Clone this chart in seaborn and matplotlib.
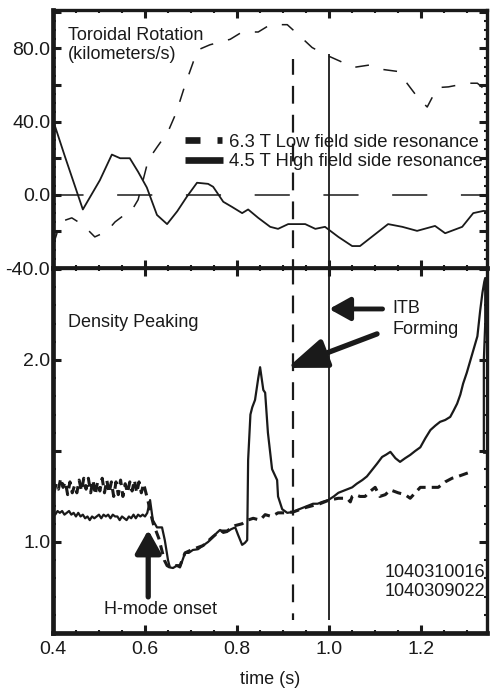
import matplotlib
matplotlib.use("Agg")
import matplotlib.pyplot as plt
from matplotlib.lines import Line2D
from matplotlib.ticker import MultipleLocator, FixedLocator, FormatStrFormatter
import seaborn as sns

# ---------------- data ----------------
# Top panel: toroidal rotation (km/s)
rot_low_t = [0.400, 0.410, 0.425, 0.441, 0.465, 0.491, 0.517, 0.535, 0.555, 0.572, 0.585,
             0.607, 0.626, 0.650, 0.668, 0.687, 0.704, 0.713, 0.741, 0.785, 0.811, 0.846,
             0.872, 0.909, 0.937, 0.963, 0.991, 1.024, 1.052, 1.089, 1.117, 1.150, 1.172,
             1.193, 1.213, 1.235, 1.259, 1.300, 1.322, 1.333, 1.343]
rot_low_v = [-28, -20, -14, -12.6, -16.4, -23, -20, -14.8, -11, -8.2, -2.7,
             19, 26, 34.5, 45, 60, 72, 79, 82, 85, 89, 89,
             93, 93, 86.6, 80.5, 76.7, 73, 69.6, 71, 68.5, 67.4, 60,
             53, 48, 58.6, 59, 61, 61, 58.6, 58]

rot_high_t = [0.400, 0.426, 0.465, 0.502, 0.528, 0.546, 0.567, 0.585, 0.604, 0.626, 0.648,
              0.670, 0.691, 0.713, 0.737, 0.748, 0.770, 0.789, 0.811, 0.824, 0.846, 0.872,
              0.889, 0.911, 0.948, 0.970, 0.991, 1.020, 1.050, 1.067, 1.128, 1.159, 1.191,
              1.230, 1.252, 1.289, 1.313, 1.335, 1.343]
rot_high_v = [41, 21, -8, 8, 22, 20, 20, 12.6, 4, -11, -16,
              -9, -1, 6.6, 6, 4.4, -3.8, -6.6, -10, -8, -12.6, -17.5,
              -18.6, -16, -16, -18.6, -17.5, -23, -28, -28, -16, -17.5, -19.7,
              -17, -21, -17.5, -10, -8.8, -9]

# Bottom panel: density peaking, shot 1040310016 (solid)
dens_a_t = [0.400, 0.405, 0.410, 0.415, 0.420, 0.425, 0.430, 0.435, 0.440, 0.445, 0.450,
            0.455, 0.460, 0.465, 0.470, 0.475, 0.480, 0.485, 0.490, 0.495, 0.500, 0.505,
            0.510, 0.515, 0.520, 0.525, 0.530, 0.535, 0.540, 0.545, 0.550, 0.555, 0.560,
            0.565, 0.570, 0.575, 0.580, 0.585, 0.590, 0.595, 0.600, 0.605, 0.611, 0.617,
            0.626, 0.637, 0.643, 0.650, 0.654, 0.661, 0.669, 0.676, 0.687, 0.695, 0.704,
            0.715, 0.726, 0.737, 0.748, 0.756, 0.763, 0.770, 0.778, 0.787, 0.796, 0.802,
            0.811, 0.817, 0.822, 0.824, 0.829, 0.833, 0.839, 0.846, 0.850, 0.857, 0.861,
            0.867, 0.876, 0.887, 0.889, 0.898, 0.909, 0.922, 0.935, 0.945, 0.955, 0.965,
            0.975, 0.985, 0.998, 1.010, 1.020, 1.030, 1.040, 1.050, 1.060, 1.072, 1.082,
            1.093, 1.104, 1.115, 1.124, 1.133, 1.144, 1.154, 1.165, 1.176, 1.187, 1.198,
            1.209, 1.220, 1.231, 1.241, 1.252, 1.263, 1.270, 1.278, 1.285, 1.291, 1.299,
            1.307, 1.315, 1.322, 1.328, 1.333, 1.337, 1.339, 1.339, 1.336, 1.336, 1.345]
dens_a_v = [1.17, 1.15, 1.17, 1.16, 1.17, 1.15, 1.16, 1.17, 1.15, 1.16, 1.14,
            1.16, 1.14, 1.15, 1.13, 1.14, 1.12, 1.14, 1.13, 1.14, 1.15, 1.13,
            1.15, 1.14, 1.15, 1.13, 1.15, 1.14, 1.14, 1.12, 1.14, 1.13, 1.12,
            1.14, 1.13, 1.15, 1.13, 1.15, 1.14, 1.15, 1.14, 1.16, 1.23, 1.12,
            1.08, 1.08, 1.01, 0.90, 0.86, 0.857, 0.87, 0.86, 0.94, 0.94, 0.956,
            0.96, 0.98, 1.00, 1.027, 1.05, 1.066, 1.05, 1.055, 1.07, 1.08, 1.04,
            0.984, 0.995, 1.01, 1.45, 1.70, 1.74, 1.78, 1.90, 1.96, 1.835, 1.82,
            1.60, 1.40, 1.34, 1.25, 1.18, 1.16, 1.165, 1.18, 1.19, 1.20, 1.21,
            1.21, 1.22, 1.23, 1.25, 1.27, 1.28, 1.29, 1.30, 1.32, 1.34, 1.36,
            1.395, 1.43, 1.467, 1.48, 1.495, 1.46, 1.44, 1.46, 1.478, 1.50, 1.52,
            1.57, 1.615, 1.64, 1.66, 1.67, 1.687, 1.72, 1.76, 1.81, 1.87, 1.93,
            2.00, 2.07, 2.13, 2.27, 2.37, 2.43, 2.45, 2.20, 2.00, 1.49, 1.49]

# Bottom panel: density peaking, shot 1040309022 (dashed)
dens_b_t = [0.402, 0.407, 0.412, 0.417, 0.422, 0.427, 0.432, 0.437, 0.442, 0.447, 0.452,
            0.457, 0.462, 0.467, 0.472, 0.477, 0.482, 0.487, 0.492, 0.497, 0.502, 0.507,
            0.512, 0.517, 0.522, 0.527, 0.532, 0.537, 0.542, 0.547, 0.552, 0.557, 0.562,
            0.567, 0.572, 0.577, 0.582, 0.587, 0.592, 0.597, 0.602, 0.607, 0.612, 0.618,
            0.624, 0.630, 0.636, 0.642, 0.648, 0.655, 0.662, 0.676, 0.687, 0.704, 0.726,
            0.748, 0.763, 0.778, 0.796, 0.811, 0.823, 0.835, 0.850, 0.861, 0.875, 0.889,
            0.905, 0.922, 0.950, 0.980, 1.000, 1.020, 1.039, 1.046, 1.050, 1.057, 1.067,
            1.078, 1.090, 1.100, 1.110, 1.122, 1.133, 1.150, 1.165, 1.176, 1.198, 1.212,
            1.224, 1.237, 1.252, 1.267, 1.280, 1.291, 1.302, 1.313]
dens_b_v = [1.27, 1.32, 1.29, 1.35, 1.30, 1.33, 1.26, 1.33, 1.27, 1.31, 1.27,
            1.34, 1.28, 1.35, 1.29, 1.35, 1.27, 1.34, 1.26, 1.33, 1.28, 1.35,
            1.27, 1.34, 1.27, 1.33, 1.25, 1.33, 1.26, 1.34, 1.25, 1.32, 1.27,
            1.33, 1.28, 1.34, 1.27, 1.33, 1.27, 1.32, 1.27, 1.22, 1.16, 1.10,
            1.06, 1.02, 0.96, 0.90, 0.87, 0.86, 0.87, 0.87, 0.94, 0.96, 0.98,
            1.03, 1.06, 1.06, 1.09, 1.10, 1.12, 1.13, 1.12, 1.15, 1.14, 1.16,
            1.16, 1.165, 1.19, 1.21, 1.23, 1.24, 1.24, 1.22, 1.25, 1.26, 1.25,
            1.25, 1.28, 1.30, 1.25, 1.26, 1.286, 1.27, 1.26, 1.24, 1.30, 1.30,
            1.30, 1.30, 1.33, 1.35, 1.36, 1.37, 1.38, 1.385]

# event markers (time, s)
itb_times = [0.921, 1.0]
vline_top_from = [74, 76.7]      # km/s where the markers start in the top panel
vline_bot_to = 0.57              # density peaking where the markers end

x_ticks = [0.4, 0.6, 0.8, 1.0, 1.2]
top_ticks = [-40.0, 0.0, 40.0, 80.0]
bot_ticks = [1.0, 2.0]

# ---------------- style ----------------
sns.set_theme(style="white")
plt.rcParams["font.family"] = ["Liberation Sans", "DejaVu Sans"]
plt.rcParams["text.color"] = "black"
plt.rcParams["axes.labelcolor"] = "black"
plt.rcParams["xtick.color"] = "black"
plt.rcParams["ytick.color"] = "black"
FS = 13
TFS = 14

fig = plt.figure(figsize=(4.9, 6.92), dpi=100)
gs = fig.add_gridspec(2, 1, height_ratios=[258, 365], left=0.108, right=0.994,
                      top=0.9855, bottom=0.0853, hspace=0)
ax1 = fig.add_subplot(gs[0])
ax2 = fig.add_subplot(gs[1], sharex=ax1)

# top panel lines
sns.lineplot(x=rot_low_t, y=rot_low_v, ax=ax1, sort=False, estimator=None, color="k",
             lw=1.1, linestyle=(0, (9, 10)))
sns.lineplot(x=rot_high_t, y=rot_high_v, ax=ax1, sort=False, estimator=None, color="k",
             lw=1.3)
ax1.axhline(0, color="k", lw=1.1, linestyle=(3, (23, 22)))

# bottom panel lines
sns.lineplot(x=dens_b_t, y=dens_b_v, ax=ax2, sort=False, estimator=None, color="k",
             lw=2.2, linestyle=(0, (3, 2)))
sns.lineplot(x=dens_a_t, y=dens_a_v, ax=ax2, sort=False, estimator=None, color="k",
             lw=1.6)

# vertical event markers
ax1.vlines(itb_times[0], -45, vline_top_from[0], color="k", lw=1.6, linestyles=[(0, (8, 5))])
ax1.vlines(itb_times[1], -45, vline_top_from[1], color="k", lw=1.3)
ax2.vlines(itb_times[0], vline_bot_to, 2.6, color="k", lw=1.6, linestyles=[(5, (8, 5))])
ax2.vlines(itb_times[1], vline_bot_to, 2.6, color="k", lw=1.3)

# limits
ax1.set_xlim(0.4, 1.343)
ax1.set_ylim(-40, 101)
ax2.set_ylim(0.5, 2.505)

# ticks
for ax in (ax1, ax2):
    ax.tick_params(which="major", direction="in", length=6, width=2.2, color="k",
                   top=True, right=True, bottom=True, left=True, labelsize=TFS, pad=3,
                   labelcolor="k")
    ax.tick_params(which="minor", direction="in", length=2.2, width=1.5, color="k",
                   top=True, right=True, bottom=True, left=True)
    ax.xaxis.set_major_locator(FixedLocator(x_ticks))
    ax.xaxis.set_minor_locator(MultipleLocator(0.05))
    for side in ("left", "bottom"):
        ax.spines[side].set_linewidth(3.4)
    for side in ("top", "right"):
        ax.spines[side].set_linewidth(2.4)
    for s in ax.spines.values():
        s.set_color("k")
        s.set_visible(True)

ax1.yaxis.set_major_locator(MultipleLocator(20))
ax1.yaxis.set_minor_locator(MultipleLocator(5))
ax1.yaxis.set_major_formatter(plt.FuncFormatter(
    lambda v, p: f"{v:.1f}" if v in top_ticks else ""))
ax2.yaxis.set_major_locator(MultipleLocator(0.5))
ax2.yaxis.set_minor_locator(MultipleLocator(0.1))
ax2.yaxis.set_major_formatter(plt.FuncFormatter(
    lambda v, p: f"{v:.1f}" if round(v, 2) in bot_ticks else ""))
ax2.xaxis.set_major_formatter(FormatStrFormatter("%.1f"))
plt.setp(ax1.get_xticklabels(), visible=False)
ax2.tick_params(axis="x", pad=6)
ax1.tick_params(axis="y", pad=2)
ax2.tick_params(axis="y", pad=2)

ax2.set_xlabel("time (s)", fontsize=FS, labelpad=9, color="k")
ax1.set_ylabel("")
ax2.set_ylabel("")

# legend
h_low = Line2D([], [], color="k", lw=4.8, linestyle=(0, (2.25, 2.55, 0.75, 3)),
               solid_capstyle="butt", dash_capstyle="butt")
h_high = Line2D([], [], color="k", lw=4.8, solid_capstyle="butt")
leg = ax1.legend([h_low, h_high],
                 ["6.3 T Low field side resonance", "4.5 T High field side resonance"],
                 loc="center left", bbox_to_anchor=(0.304, 0.45), frameon=False,
                 fontsize=13.3, borderpad=0, borderaxespad=0, handlelength=2.05,
                 handletextpad=0.35, labelspacing=0.12)
for t in leg.get_texts():
    t.set_color("k")

# annotations
ax1.text(0.035, 0.935, "Toroidal Rotation\n(kilometers/s)", transform=ax1.transAxes,
         fontsize=FS, va="top", ha="left", linespacing=1.15, color="k")
ax2.text(0.035, 0.852, "Density Peaking", transform=ax2.transAxes,
         fontsize=FS, va="center", ha="left", color="k")
ax2.text(1.138, 2.12, "ITB\nForming", fontsize=FS, va="bottom", ha="left",
         linespacing=1.35, color="k")
ax2.annotate("", xy=(1.0, 2.28), xytext=(1.116, 2.28),
             arrowprops=dict(arrowstyle="-|>,head_length=0.45,head_width=0.25",
                             lw=3.5, color="k", shrinkA=0, shrinkB=0, mutation_scale=28))
ax2.annotate("", xy=(0.909, 1.956), xytext=(1.104, 2.143),
             arrowprops=dict(arrowstyle="-|>,head_length=0.85,head_width=0.32",
                             lw=3.8, color="k", shrinkA=0, shrinkB=0, mutation_scale=28))
ax2.annotate("", xy=(0.607, 1.066), xytext=(0.607, 0.698),
             arrowprops=dict(arrowstyle="-|>,head_length=0.5,head_width=0.28",
                             lw=3.8, color="k", shrinkA=0, shrinkB=0, mutation_scale=28))
ax2.text(0.633, 0.63, "H-mode onset", fontsize=FS, ha="center", va="center", color="k")
ax2.text(0.995, 0.09, "1040310016\n1040309022", transform=ax2.transAxes,
         fontsize=FS, ha="right", va="bottom", linespacing=1.15, color="k")

fig.savefig("out.png", dpi=100)
